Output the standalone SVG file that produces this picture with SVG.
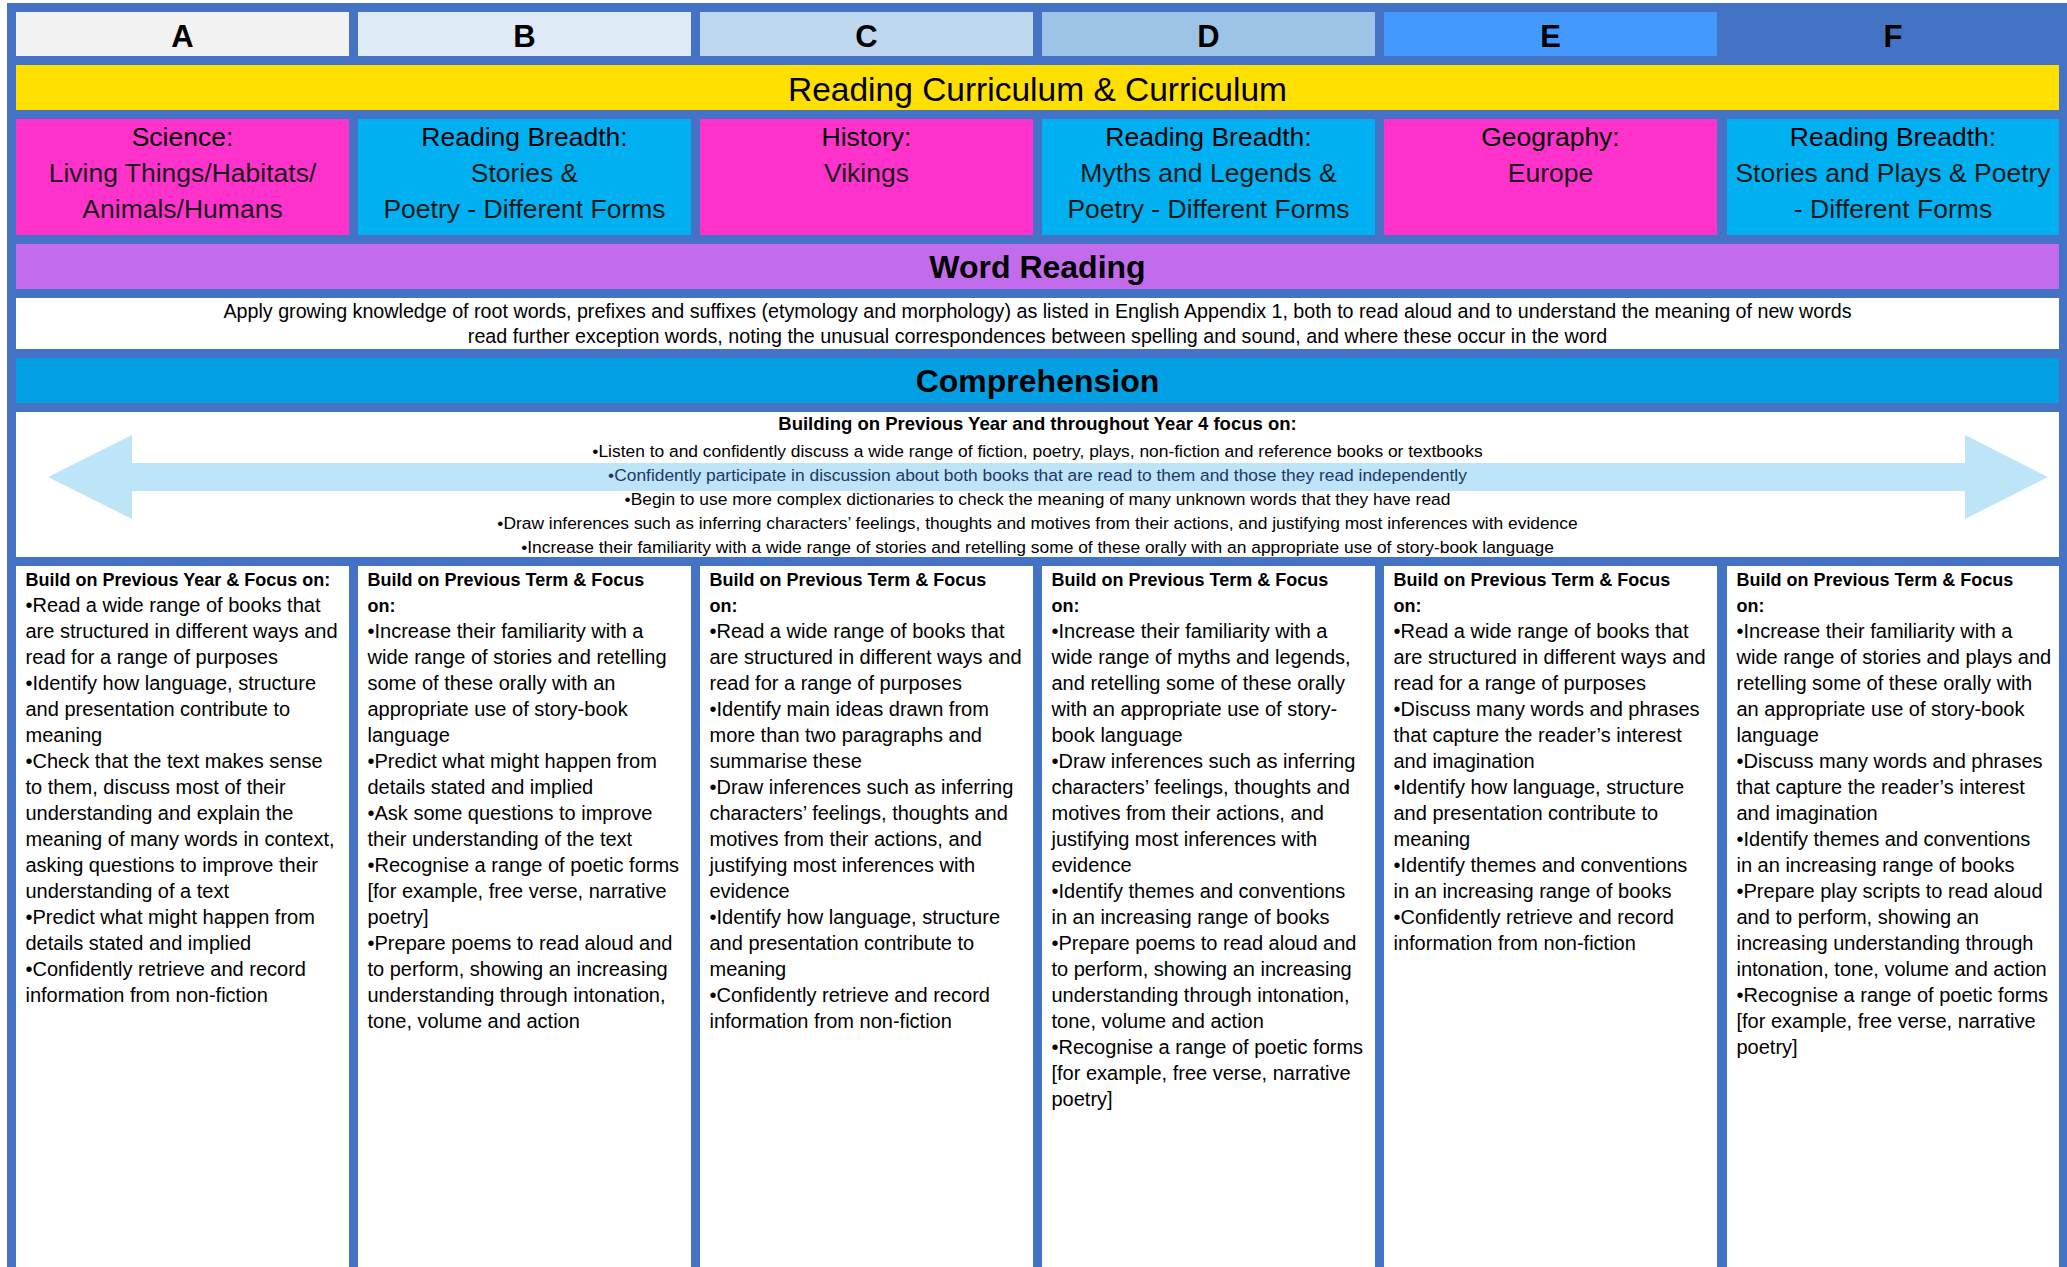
<svg xmlns="http://www.w3.org/2000/svg" width="2067" height="1267" viewBox="0 0 2067 1267">
<style>
text{font-family:"Liberation Sans",Arial,sans-serif;fill:#000}
.hd{font-size:31px;font-weight:bold;text-anchor:middle}
.ttl{font-size:33.5px;text-anchor:middle}
.sec{font-size:32px;font-weight:bold;text-anchor:middle}
.subj{font-size:26.5px;text-anchor:middle}
.subj .s2{fill:#1a1a1a}
.wr{font-size:19.7px;text-anchor:middle}
.cb{font-size:18.5px;font-weight:bold;text-anchor:middle}
.cl{font-size:17.4px;text-anchor:middle}
.col{font-size:20px}
.col .b{font-weight:bold;font-size:18px}
</style>
<rect x="0" y="0" width="2067" height="1267" fill="#ffffff"/>
<rect x="7" y="3" width="2060" height="1264" fill="#4472C4"/>
<g id="header-row">
<g id="hA"><rect x="16" y="12" width="333" height="44" fill="#F2F2F2"/><text class="hd" x="182.5" y="47">A</text></g>
<g id="hB"><rect x="358" y="12" width="333" height="44" fill="#DEEAF6"/><text class="hd" x="524.5" y="47">B</text></g>
<g id="hC"><rect x="700" y="12" width="333" height="44" fill="#BDD7EE"/><text class="hd" x="866.5" y="47">C</text></g>
<g id="hD"><rect x="1042" y="12" width="333" height="44" fill="#9DC3E6"/><text class="hd" x="1208.5" y="47">D</text></g>
<g id="hE"><rect x="1384" y="12" width="333" height="44" fill="#4499FF"/><text class="hd" x="1550.5" y="47">E</text></g>
<g id="hF"><rect x="1727" y="12" width="332" height="44" fill="#4472C4"/><text class="hd" x="1893" y="47">F</text></g>
</g>
<g id="title"><rect x="16" y="65" width="2043" height="45" fill="#FFE000"/><text class="ttl" x="1037.5" y="101">Reading Curriculum &amp; Curriculum</text></g>
<g id="subjects">
<g id="sA"><rect x="16" y="119" width="333" height="116" fill="#FF33CC"/><text class="subj"><tspan x="182.5" y="146">Science:</tspan><tspan class="s2" x="182.5" y="182">Living Things/Habitats/</tspan><tspan class="s2" x="182.5" y="218">Animals/Humans</tspan></text></g>
<g id="sB"><rect x="358" y="119" width="333" height="116" fill="#00B0F0"/><text class="subj"><tspan x="524.5" y="146">Reading Breadth:</tspan><tspan class="s2" x="524.5" y="182">Stories &amp;</tspan><tspan class="s2" x="524.5" y="218">Poetry - Different Forms</tspan></text></g>
<g id="sC"><rect x="700" y="119" width="333" height="116" fill="#FF33CC"/><text class="subj"><tspan x="866.5" y="146">History:</tspan><tspan class="s2" x="866.5" y="182">Vikings</tspan></text></g>
<g id="sD"><rect x="1042" y="119" width="333" height="116" fill="#00B0F0"/><text class="subj"><tspan x="1208.5" y="146">Reading Breadth:</tspan><tspan class="s2" x="1208.5" y="182">Myths and Legends &amp;</tspan><tspan class="s2" x="1208.5" y="218">Poetry - Different Forms</tspan></text></g>
<g id="sE"><rect x="1384" y="119" width="333" height="116" fill="#FF33CC"/><text class="subj"><tspan x="1550.5" y="146">Geography:</tspan><tspan class="s2" x="1550.5" y="182">Europe</tspan></text></g>
<g id="sF"><rect x="1727" y="119" width="332" height="116" fill="#00B0F0"/><text class="subj"><tspan x="1893" y="146">Reading Breadth:</tspan><tspan class="s2" x="1893" y="182">Stories and Plays &amp; Poetry</tspan><tspan class="s2" x="1893" y="218">- Different Forms</tspan></text></g>
</g>
<g id="word-reading">
<rect x="16" y="244" width="2043" height="45" fill="#C26BEC"/><text class="sec" x="1037.5" y="278">Word Reading</text>
<rect x="16" y="298" width="2043" height="51" fill="#ffffff"/>
<text class="wr"><tspan x="1037.5" y="318">Apply growing knowledge of root words, prefixes and suffixes (etymology and morphology) as listed in English Appendix 1, both to read aloud and to understand the meaning of new words</tspan><tspan x="1037.5" y="343">read further exception words, noting the unusual correspondences between spelling and sound, and where these occur in the word</tspan></text>
</g>
<g id="comprehension">
<rect x="16" y="358" width="2043" height="45" fill="#02A0E3"/><text class="sec" x="1037.5" y="392">Comprehension</text>
<rect x="16" y="412" width="2043" height="145" fill="#ffffff"/>
</g>
<g id="connectors">
<polygon points="48,477 132,435 132,463 1965,463 1965,435 2048,477 1965,519 1965,491 132,491 132,519" fill="#BDE4F7"/>
</g>
<g id="comprehension-text">
<text class="cb" x="1037.5" y="430">Building on Previous Year and throughout Year 4 focus on:</text>
<text class="cl"><tspan x="1037.5" y="457">•Listen to and confidently discuss a wide range of fiction, poetry, plays, non-fiction and reference books or textbooks</tspan><tspan x="1037.5" y="481" fill="#1F3864">•Confidently participate in discussion about both books that are read to them and those they read independently</tspan><tspan x="1037.5" y="505">•Begin to use more complex dictionaries to check the meaning of many unknown words that they have read</tspan><tspan x="1037.5" y="529">•Draw inferences such as inferring characters’ feelings, thoughts and motives from their actions, and justifying most inferences with evidence</tspan><tspan x="1037.5" y="553">•Increase their familiarity with a wide range of stories and retelling some of these orally with an appropriate use of story-book language</tspan></text>
</g>
<g id="colA"><rect x="16" y="566" width="333" height="701" fill="#ffffff"/>
<text class="col"><tspan class="b" x="25.5" y="586">Build on Previous Year &amp; Focus on:</tspan><tspan x="25.5" y="612">•Read a wide range of books that</tspan><tspan x="25.5" y="638">are structured in different ways and</tspan><tspan x="25.5" y="664">read for a range of purposes</tspan><tspan x="25.5" y="690">•Identify how language, structure</tspan><tspan x="25.5" y="716">and presentation contribute to</tspan><tspan x="25.5" y="742">meaning</tspan><tspan x="25.5" y="768">•Check that the text makes sense</tspan><tspan x="25.5" y="794">to them, discuss most of their</tspan><tspan x="25.5" y="820">understanding and explain the</tspan><tspan x="25.5" y="846">meaning of many words in context,</tspan><tspan x="25.5" y="872">asking questions to improve their</tspan><tspan x="25.5" y="898">understanding of a text</tspan><tspan x="25.5" y="924">•Predict what might happen from</tspan><tspan x="25.5" y="950">details stated and implied</tspan><tspan x="25.5" y="976">•Confidently retrieve and record</tspan><tspan x="25.5" y="1002">information from non-fiction</tspan></text></g>
<g id="colB"><rect x="358" y="566" width="333" height="701" fill="#ffffff"/>
<text class="col"><tspan class="b" x="367.5" y="586">Build on Previous Term &amp; Focus</tspan><tspan class="b" x="367.5" y="612">on:</tspan><tspan x="367.5" y="638">•Increase their familiarity with a</tspan><tspan x="367.5" y="664">wide range of stories and retelling</tspan><tspan x="367.5" y="690">some of these orally with an</tspan><tspan x="367.5" y="716">appropriate use of story-book</tspan><tspan x="367.5" y="742">language</tspan><tspan x="367.5" y="768">•Predict what might happen from</tspan><tspan x="367.5" y="794">details stated and implied</tspan><tspan x="367.5" y="820">•Ask some questions to improve</tspan><tspan x="367.5" y="846">their understanding of the text</tspan><tspan x="367.5" y="872">•Recognise a range of poetic forms</tspan><tspan x="367.5" y="898">[for example, free verse, narrative</tspan><tspan x="367.5" y="924">poetry]</tspan><tspan x="367.5" y="950">•Prepare poems to read aloud and</tspan><tspan x="367.5" y="976">to perform, showing an increasing</tspan><tspan x="367.5" y="1002">understanding through intonation,</tspan><tspan x="367.5" y="1028">tone, volume and action</tspan></text></g>
<g id="colC"><rect x="700" y="566" width="333" height="701" fill="#ffffff"/>
<text class="col"><tspan class="b" x="709.5" y="586">Build on Previous Term &amp; Focus</tspan><tspan class="b" x="709.5" y="612">on:</tspan><tspan x="709.5" y="638">•Read a wide range of books that</tspan><tspan x="709.5" y="664">are structured in different ways and</tspan><tspan x="709.5" y="690">read for a range of purposes</tspan><tspan x="709.5" y="716">•Identify main ideas drawn from</tspan><tspan x="709.5" y="742">more than two paragraphs and</tspan><tspan x="709.5" y="768">summarise these</tspan><tspan x="709.5" y="794">•Draw inferences such as inferring</tspan><tspan x="709.5" y="820">characters’ feelings, thoughts and</tspan><tspan x="709.5" y="846">motives from their actions, and</tspan><tspan x="709.5" y="872">justifying most inferences with</tspan><tspan x="709.5" y="898">evidence</tspan><tspan x="709.5" y="924">•Identify how language, structure</tspan><tspan x="709.5" y="950">and presentation contribute to</tspan><tspan x="709.5" y="976">meaning</tspan><tspan x="709.5" y="1002">•Confidently retrieve and record</tspan><tspan x="709.5" y="1028">information from non-fiction</tspan></text></g>
<g id="colD"><rect x="1042" y="566" width="333" height="701" fill="#ffffff"/>
<text class="col"><tspan class="b" x="1051.5" y="586">Build on Previous Term &amp; Focus</tspan><tspan class="b" x="1051.5" y="612">on:</tspan><tspan x="1051.5" y="638">•Increase their familiarity with a</tspan><tspan x="1051.5" y="664">wide range of myths and legends,</tspan><tspan x="1051.5" y="690">and retelling some of these orally</tspan><tspan x="1051.5" y="716">with an appropriate use of story-</tspan><tspan x="1051.5" y="742">book language</tspan><tspan x="1051.5" y="768">•Draw inferences such as inferring</tspan><tspan x="1051.5" y="794">characters’ feelings, thoughts and</tspan><tspan x="1051.5" y="820">motives from their actions, and</tspan><tspan x="1051.5" y="846">justifying most inferences with</tspan><tspan x="1051.5" y="872">evidence</tspan><tspan x="1051.5" y="898">•Identify themes and conventions</tspan><tspan x="1051.5" y="924">in an increasing range of books</tspan><tspan x="1051.5" y="950">•Prepare poems to read aloud and</tspan><tspan x="1051.5" y="976">to perform, showing an increasing</tspan><tspan x="1051.5" y="1002">understanding through intonation,</tspan><tspan x="1051.5" y="1028">tone, volume and action</tspan><tspan x="1051.5" y="1054">•Recognise a range of poetic forms</tspan><tspan x="1051.5" y="1080">[for example, free verse, narrative</tspan><tspan x="1051.5" y="1106">poetry]</tspan></text></g>
<g id="colE"><rect x="1384" y="566" width="333" height="701" fill="#ffffff"/>
<text class="col"><tspan class="b" x="1393.5" y="586">Build on Previous Term &amp; Focus</tspan><tspan class="b" x="1393.5" y="612">on:</tspan><tspan x="1393.5" y="638">•Read a wide range of books that</tspan><tspan x="1393.5" y="664">are structured in different ways and</tspan><tspan x="1393.5" y="690">read for a range of purposes</tspan><tspan x="1393.5" y="716">•Discuss many words and phrases</tspan><tspan x="1393.5" y="742">that capture the reader’s interest</tspan><tspan x="1393.5" y="768">and imagination</tspan><tspan x="1393.5" y="794">•Identify how language, structure</tspan><tspan x="1393.5" y="820">and presentation contribute to</tspan><tspan x="1393.5" y="846">meaning</tspan><tspan x="1393.5" y="872">•Identify themes and conventions</tspan><tspan x="1393.5" y="898">in an increasing range of books</tspan><tspan x="1393.5" y="924">•Confidently retrieve and record</tspan><tspan x="1393.5" y="950">information from non-fiction</tspan></text></g>
<g id="colF"><rect x="1727" y="566" width="332" height="701" fill="#ffffff"/>
<text class="col"><tspan class="b" x="1736.5" y="586">Build on Previous Term &amp; Focus</tspan><tspan class="b" x="1736.5" y="612">on:</tspan><tspan x="1736.5" y="638">•Increase their familiarity with a</tspan><tspan x="1736.5" y="664">wide range of stories and plays and</tspan><tspan x="1736.5" y="690">retelling some of these orally with</tspan><tspan x="1736.5" y="716">an appropriate use of story-book</tspan><tspan x="1736.5" y="742">language</tspan><tspan x="1736.5" y="768">•Discuss many words and phrases</tspan><tspan x="1736.5" y="794">that capture the reader’s interest</tspan><tspan x="1736.5" y="820">and imagination</tspan><tspan x="1736.5" y="846">•Identify themes and conventions</tspan><tspan x="1736.5" y="872">in an increasing range of books</tspan><tspan x="1736.5" y="898">•Prepare play scripts to read aloud</tspan><tspan x="1736.5" y="924">and to perform, showing an</tspan><tspan x="1736.5" y="950">increasing understanding through</tspan><tspan x="1736.5" y="976">intonation, tone, volume and action</tspan><tspan x="1736.5" y="1002">•Recognise a range of poetic forms</tspan><tspan x="1736.5" y="1028">[for example, free verse, narrative</tspan><tspan x="1736.5" y="1054">poetry]</tspan></text></g>
</svg>
